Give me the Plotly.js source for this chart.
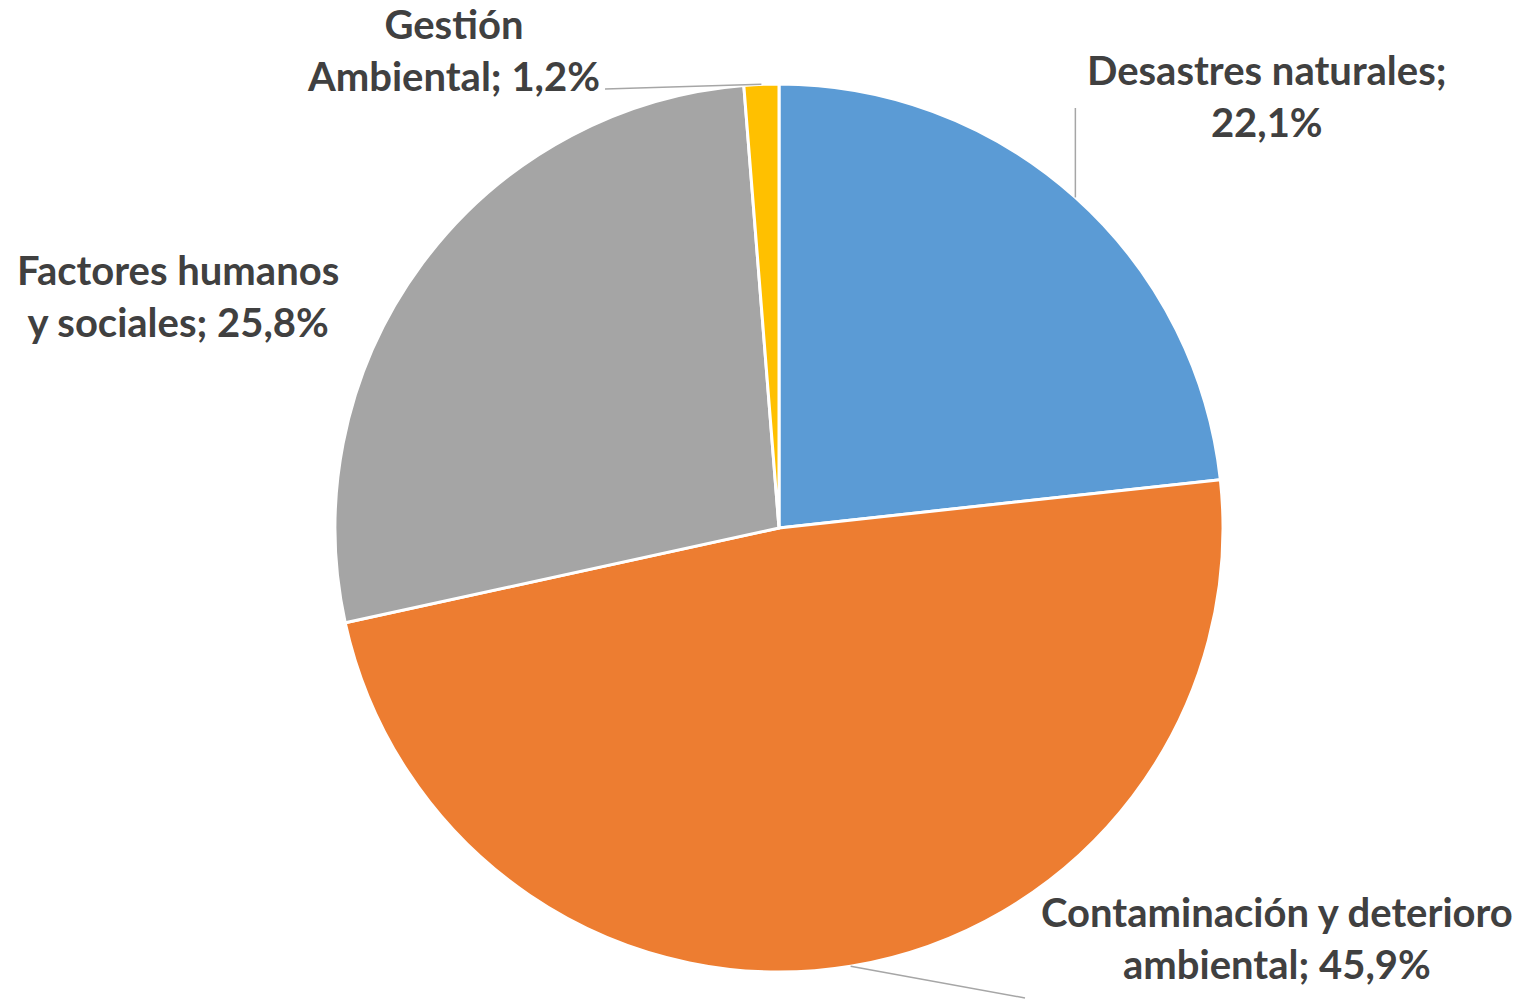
<!DOCTYPE html>
<html>
<head>
<meta charset="utf-8">
<script src="https://cdn.plot.ly/plotly-3.0.1.min.js"></script>
<style>html,body{margin:0;padding:0;background:#fff;}#chart{width:1540px;height:1000px;}</style>
</head>
<body>
<div id="chart"></div>
<script>
// Data
var categories = ["Desastres naturales", "Contaminación y deterioro ambiental", "Factores humanos y sociales", "Gestión Ambiental"];
var values = [22.1, 45.9, 25.8, 1.2];
var colors = ["#5B9BD5", "#ED7D31", "#A5A5A5", "#FFC000"];
var breakAfterWord = [2, 3, 2, 1];

// Label layout (pixel positions of label text centres and leader-line ends)
var labelPos = [[1267, 96], [1277, 938], [178, 296], [453, 50]];
var leaderEnd = [[null, 108], [1025, 998], null, [605, 89]];

var W = 1540, H = 1000;
var cx = 779, cy = 528, R = 444;

function fmt(v) { return v.toFixed(1).replace('.', ',') + '%'; }
function labelText(i) {
  var words = (categories[i] + '; ' + fmt(values[i])).split(' ');
  return words.slice(0, breakAfterWord[i]).join(' ') + '<br>' + words.slice(breakAfterWord[i]).join(' ');
}

var total = values.reduce(function (a, b) { return a + b; }, 0);
var cum = 0;
var annotations = [], shapes = [];
for (var i = 0; i < values.length; i++) {
  var mid = (cum + values[i] / 2) / total * 2 * Math.PI;
  cum += values[i];
  var ax = cx + R * Math.sin(mid), ay = cy - R * Math.cos(mid);
  annotations.push({
    x: labelPos[i][0] / W, y: 1 - labelPos[i][1] / H, xref: 'paper', yref: 'paper',
    xanchor: 'center', yanchor: 'middle', showarrow: false, align: 'center',
    text: '<b>' + labelText(i) + '</b>',
    font: {family: 'Lato, "Open Sans", sans-serif', size: 40, color: '#404040'}
  });
  if (leaderEnd[i]) {
    var ex = leaderEnd[i][0] === null ? ax : leaderEnd[i][0];
    var ey = leaderEnd[i][1];
    shapes.push({
      type: 'line', xref: 'paper', yref: 'paper',
      x0: ax / W, y0: 1 - ay / H, x1: ex / W, y1: 1 - ey / H,
      line: {color: '#A6A6A6', width: 1.5}
    });
  }
}

var trace = {
  type: 'pie',
  labels: categories,
  values: values,
  sort: false,
  direction: 'clockwise',
  rotation: 0,
  textinfo: 'none',
  marker: {colors: colors, line: {color: '#FFFFFF', width: 3}},
  domain: {x: [(cx - R) / W, (cx + R) / W], y: [1 - (cy + R) / H, 1 - (cy - R) / H]},
  showlegend: false
};

var layout = {
  width: W, height: H,
  margin: {l: 0, r: 0, t: 0, b: 0},
  paper_bgcolor: '#FFFFFF',
  showlegend: false,
  annotations: annotations,
  shapes: shapes
};

Plotly.newPlot('chart', [trace], layout, {displayModeBar: false, staticPlot: true});
</script>
</body>
</html>
